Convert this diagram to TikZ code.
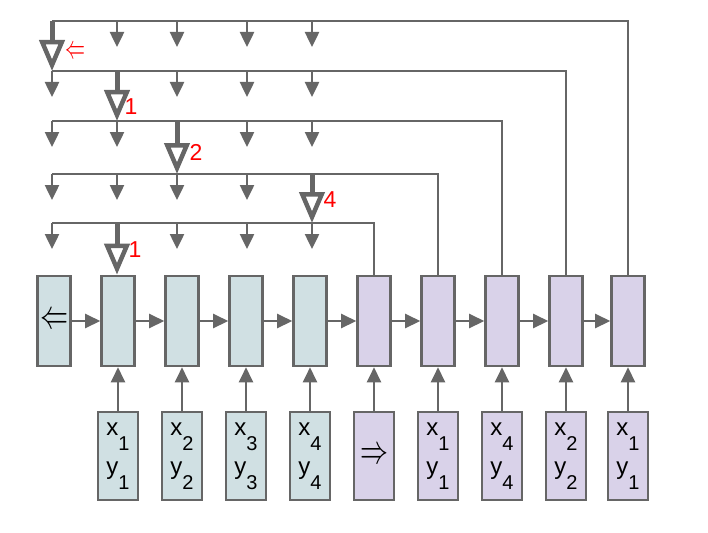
\documentclass[tikz,border=0pt]{standalone}
\usepackage{fontspec}
\usepackage{graphicx}
\setmainfont{Liberation Sans}
\usetikzlibrary{arrows.meta}
\definecolor{linegray}{HTML}{666666}
\definecolor{encfill}{HTML}{D0E0E3}
\definecolor{decfill}{HTML}{D9D2E9}
\newcommand{\subidx}[1]{\raisebox{-15pt}{\fontsize{20}{20}\selectfont #1}}
\newcommand{\tok}[2]{x\subidx{#1}\\y\subidx{#2}}

\begin{document}
\begin{tikzpicture}[x=1pt,y=-1pt,
    cell/.style={draw=linegray,line width=2.6pt,minimum width=33pt,minimum height=90pt,inner sep=0pt},
    inbox/.style={cell,minimum width=40pt,minimum height=88pt,align=center,font=\fontsize{24}{39}\selectfont},
    wire/.style={linegray,line width=2.5pt},
    feed/.style={wire,-{Triangle[length=15pt,width=14pt]}},
    ptr/.style={linegray,line width=5pt,-{Triangle[open,length=31pt,width=25pt,line width=4.5pt]}},
    lbl/.style={red,font=\fontsize{23}{23}\selectfont}]
    \useasboundingbox (0,0) rectangle (708,532);
    % Encoder / decoder cells
    \node[cell,fill=encfill] (e0) at (54,321) {\resizebox{28pt}{15pt}{$\Leftarrow$}};
    \foreach \i/\x in {1/118,2/182,3/246,4/310}
        \node[cell,fill=encfill] (e\i) at (\x,321) {};
    \foreach \i/\x in {5/374,6/438,7/502,8/566,9/628}
        \node[cell,fill=decfill] (e\i) at (\x,321) {};
    % Inputs
    \node[inbox,fill=encfill] (in1) at (118,456) {\tok11};
    \node[inbox,fill=encfill] (in2) at (182,456) {\tok22};
    \node[inbox,fill=encfill] (in3) at (246,456) {\tok33};
    \node[inbox,fill=encfill] (in4) at (310,456) {\tok44};
    \node[inbox,fill=decfill] (in5) at (374,456) {\resizebox{28pt}{15pt}{$\Rightarrow$}};
    \node[inbox,fill=decfill] (in6) at (438,456) {\tok11};
    \node[inbox,fill=decfill] (in7) at (502,456) {\tok44};
    \node[inbox,fill=decfill] (in8) at (566,456) {\tok22};
    \node[inbox,fill=decfill] (in9) at (628,456) {\tok11};
    \foreach \i in {0,...,8} {
        \pgfmathtruncatemacro\j{\i+1}
        \draw[feed] (e\i) -- (e\j);
    }
    \foreach \i in {1,...,9}
        \draw[feed] (in\i) -- (e\i);
    % Pointer columns and levels
    \coordinate (p0) at (52,0);
    \coordinate (p1) at (117,0);
    \coordinate (p2) at (177,0);
    \coordinate (p3) at (247,0);
    \coordinate (p4) at (312,0);
    \coordinate (lv1) at (52,21);
    \coordinate (lv2) at (52,71);
    \coordinate (lv3) at (52,121);
    \coordinate (lv4) at (52,174);
    \coordinate (lv5) at (52,223);
    \draw[wire] (e9.north) |- (lv1);
    \draw[wire] (e8.north) |- (lv2);
    \draw[wire] (e7.north) |- (lv3);
    \draw[wire] (e6.north) |- (lv4);
    \draw[wire] (e5.north) |- (lv5);
    \foreach \l/\c in {1/1,1/2,1/3,1/4, 2/0,2/2,2/3,2/4, 3/0,3/1,3/3,3/4,
                       4/0,4/1,4/2,4/3, 5/0,5/2,5/3,5/4}
        \draw[feed] (lv\l -| p\c) -- ++(0,26);
    % Pointed positions
    \draw[ptr] (lv1 -| p0) -- (lv2 -| p0);
    \draw[ptr] (lv2 -| p1) -- (lv3 -| p1);
    \draw[ptr] (lv3 -| p2) -- (lv4 -| p2);
    \draw[ptr] (lv4 -| p4) -- (lv5 -| p4);
    \draw[ptr] (lv5 -| p1) -- (p1 |- e1.north);
    \node[lbl] (lb1) at (75,53) {\resizebox{20pt}{12pt}{$\Leftarrow$}};
    \node[lbl] (lb2) at (131,107) {1};
    \node[lbl] (lb3) at (196,152) {2};
    \node[lbl] (lb4) at (330,200) {4};
    \node[lbl] (lb5) at (135,250) {1};
\end{tikzpicture}
\end{document}
